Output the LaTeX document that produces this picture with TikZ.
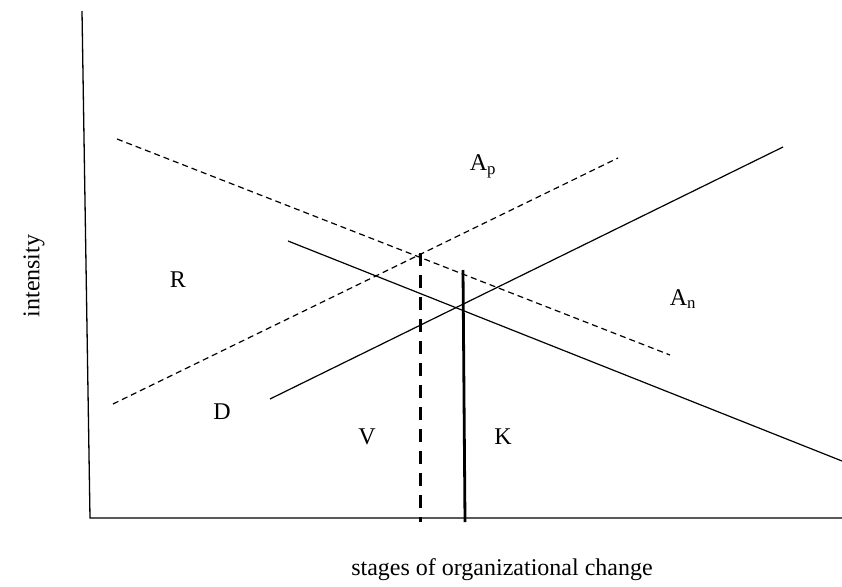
\documentclass[tikz,border=0pt]{standalone}
\usepackage{fontspec}
\setmainfont{Liberation Serif}
\usetikzlibrary{positioning}

\begin{document}
\begin{tikzpicture}[
    x=1pt, y=-1pt,
    font=\fontsize{24}{28}\selectfont,
    axis/.style={line width=1.3pt},
    curve/.style={line width=1.2pt},
    dcurve/.style={line width=1.2pt, dash pattern=on 6pt off 4pt},
    bar/.style={line width=2.8pt},
    dbar/.style={line width=2.8pt, dash pattern=on 13pt off 9pt},
    lbl/.style={inner sep=0pt}
]
\useasboundingbox (0,0) rectangle (842,586);

% axes
\coordinate (top) at (82,11);
\coordinate (origin) at (90,518);
\coordinate (xend) at (842,518);
\draw[axis] (top) -- (origin) -- (xend);

% dashed lines
\coordinate (dr1) at (117,139);
\coordinate (dr2) at (670,355);
\coordinate (da1) at (113,404);
\coordinate (da2) at (618,158);
\draw[dcurve] (dr1) -- (dr2);
\draw[dcurve] (da1) -- (da2);

% solid lines
\coordinate (sr1) at (288,241);
\coordinate (sr2) at (842,461);
\coordinate (sa1) at (270,399);
\coordinate (sa2) at (783,147);
\draw[curve] (sr1) -- (sr2);
\draw[curve] (sa1) -- (sa2);

% verticals
\coordinate (v1) at (420.5,253);
\coordinate (v1b) at (420.5,522);
\coordinate (k1) at (463,270);
\coordinate (k1b) at (465,522);
\draw[dbar] (v1) -- (v1b);
\draw[bar] (k1) -- (k1b);

% labels
\node[lbl] (ap) at (483,166) {A\textsubscript{p}};
\node[lbl] (an) at (683,299) {A\textsubscript{n}};
\node[lbl] (r) at (178,280) {R};
\node[lbl] (d) at (222,412) {D};
\node[lbl] (v) at (367,437) {V};
\node[lbl] (k) at (503,437) {K};
\node[lbl, rotate=90] (ylab) at (34,276) {intensity};
\node[lbl] (xlab) at (502,570) {stages of organizational change};
\end{tikzpicture}
\end{document}
